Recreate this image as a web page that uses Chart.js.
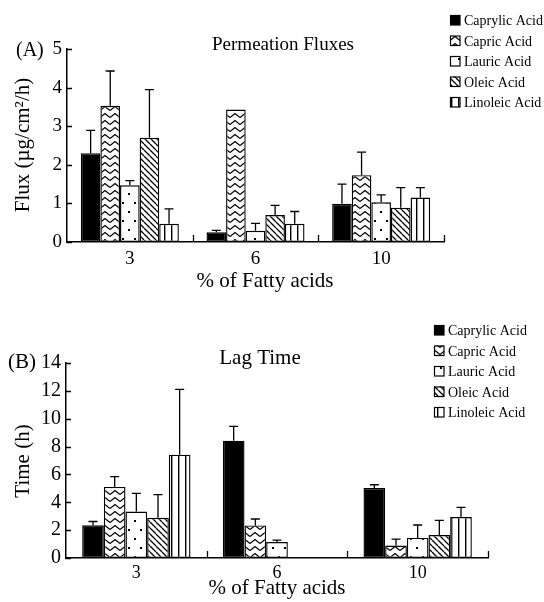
<!DOCTYPE html>
<html>
<head>
<meta charset="utf-8">
<script src="https://cdn.jsdelivr.net/npm/chart.js@4.4.0/dist/chart.umd.min.js"></script>
<style>
	body { margin: 0; background: #fff; }
	#wrap { position: relative; width: 544px; height: 602px; }
	canvas { position: absolute; left: 0; }
</style>
</head>
<body>
<div id="wrap">
	<canvas id="fluxChart" width="544" height="300" style="top:0"></canvas>
	<canvas id="lagChart" width="544" height="302" style="top:300px"></canvas>
</div>
<script>
const categories = ['3', '6', '10']
const acids = ['Caprylic Acid', 'Capric Acid', 'Lauric Acid', 'Oleic Acid', 'Linoleic Acid']

// (A) permeation flux (µg/cm²/h), mean and SD per % of fatty acid
const fluxCaprylic = [2.30, 0.25, 0.99]
const fluxCapric = [3.53, 3.43, 1.73]
const fluxLauric = [1.47, 0.29, 1.03]
const fluxOleic = [2.70, 0.70, 0.89]
const fluxLinoleic = [0.47, 0.47, 1.15]
const fluxCaprylicSd = [0.59, 0.05, 0.51]
const fluxCapricSd = [0.90, null, 0.60]
const fluxLauricSd = [0.12, 0.19, 0.19]
const fluxOleicSd = [1.25, 0.25, 0.52]
const fluxLinoleicSd = [0.39, 0.32, 0.26]
const fluxTicks = [0, 1, 2, 3, 4, 5]

// (B) lag time (h)
const lagCaprylic = [2.35, 8.42, 5.02]
const lagCapric = [5.10, 2.34, 0.89]
const lagLauric = [3.33, 1.15, 1.44]
const lagOleic = [2.89, null, 1.65]
const lagLinoleic = [7.42, null, 2.94]
const lagCaprylicSd = [0.27, 1.03, 0.24]
const lagCapricSd = [0.74, 0.46, 0.47]
const lagLauricSd = [1.31, 0.14, 0.93]
const lagOleicSd = [1.66, null, 1.05]
const lagLinoleicSd = [4.68, null, 0.70]
const lagTicks = [0, 2, 4, 6, 8, 10, 12, 14]

const serif = 'Liberation Serif'

// fill patterns for the bars
function makePattern(kind) {
	const c = document.createElement('canvas')
	const g = c.getContext('2d')
	if (kind === 'solid') return '#000'
	if (kind === 'zigzag') {
		c.width = 10; c.height = 7
		g.fillStyle = '#fff'; g.fillRect(0, 0, 10, 7)
		g.strokeStyle = '#000'; g.lineWidth = 1.3
		g.beginPath(); g.moveTo(0, 5.5); g.lineTo(5, 1.5); g.lineTo(10, 5.5); g.stroke()
	} else if (kind === 'dots') {
		c.width = 12; c.height = 18
		g.fillStyle = '#fff'; g.fillRect(0, 0, 12, 18)
		g.fillStyle = '#000'
		g.fillRect(2, 4, 2, 2)
		g.fillRect(8, 13, 2, 2)
	} else if (kind === 'hatch') {
		const s = 6
		c.width = s; c.height = s
		g.fillStyle = '#fff'; g.fillRect(0, 0, s, s)
		g.strokeStyle = '#000'; g.lineWidth = 1.3
		g.beginPath()
		for (const k of [-s, 0, s]) { g.moveTo(k, 0); g.lineTo(k + s, s) }
		g.stroke()
	} else if (kind === 'vlines') {
		c.width = 7; c.height = 2
		g.fillStyle = '#fff'; g.fillRect(0, 0, 7, 2)
		g.fillStyle = '#000'; g.fillRect(3, 0, 1.4, 2)
	}
	return g.createPattern(c, 'repeat')
}

const fills = ['solid', 'zigzag', 'dots', 'hatch', 'vlines'].map(makePattern)

function dataset(i, values, sd) {
	return {
		label: acids[i],
		data: values,
		errors: sd,
		backgroundColor: fills[i],
		borderColor: '#000',
		borderWidth: 1.4,
		borderSkipped: false,
	}
}

// error bars, inward ticks, titles and legend
const extras = {
	id: 'extras',
	afterDatasetsDraw(chart, args, o) {
		const { ctx, chartArea: area, scales: { x, y } } = chart
		ctx.save()
		ctx.strokeStyle = '#000'
		ctx.fillStyle = '#000'
		ctx.lineWidth = 1.3

		chart.data.datasets.forEach((ds, i) => {
			chart.getDatasetMeta(i).data.forEach((bar, j) => {
				const sd = ds.errors[j]
				if (sd == null || ds.data[j] == null) return
				const top = y.getPixelForValue(ds.data[j] + sd)
				ctx.beginPath()
				ctx.moveTo(bar.x, bar.y)
				ctx.lineTo(bar.x, top)
				ctx.moveTo(bar.x - 4.5, top)
				ctx.lineTo(bar.x + 4.5, top)
				ctx.stroke()
			})
		})

		// y ticks point into the plot
		ctx.beginPath()
		y.ticks.forEach(t => {
			const py = Math.round(y.getPixelForValue(t.value)) + 0.5
			ctx.moveTo(area.left, py)
			ctx.lineTo(area.left + 5, py)
		})
		// x ticks at category boundaries
		const n = categories.length
		const w = (area.right - area.left) / n
		for (let k = 1; k <= n; k++) {
			const px = Math.round(area.left + k * w) + 0.5
			ctx.moveTo(px, area.bottom)
			ctx.lineTo(px, area.bottom - 7)
		}
		ctx.stroke()

		ctx.textBaseline = 'alphabetic'
		ctx.font = o.tagFont + 'px ' + serif
		ctx.textAlign = 'left'
		ctx.fillText(o.tag, o.tagX, o.tagY)

		ctx.font = o.titleFont + 'px ' + serif
		ctx.textAlign = 'center'
		ctx.fillText(o.title, o.titleX, o.titleY)

		ctx.font = o.axisFont + 'px ' + serif
		ctx.fillText('% of Fatty acids', o.xTitleX, o.xTitleY)

		ctx.save()
		ctx.translate(o.yTitleX, o.yTitleY)
		ctx.rotate(-Math.PI / 2)
		ctx.fillText(o.yTitle, 0, 0)
		ctx.restore()

		// legend
		ctx.font = '14px ' + serif
		ctx.textAlign = 'left'
		chart.data.datasets.forEach((ds, i) => {
			const by = o.legendY + i * 20.5
			ctx.fillStyle = ds.backgroundColor
			ctx.fillRect(o.legendX, by - 10, 10, 10)
			ctx.lineWidth = 1.2
			ctx.strokeRect(o.legendX + 0.5, by - 9.5, 9.5, 9.5)
			ctx.fillStyle = '#000'
			ctx.fillText(ds.label, o.legendX + 14, by)
		})
		ctx.restore()
	},
}

function options(pad, yw, xh, ticks, yFont, xFont, xPad, extra) {
	return {
		responsive: false,
		animation: false,
		layout: { padding: pad },
		plugins: {
			legend: { display: false },
			tooltip: { enabled: false },
			extras: extra,
		},
		scales: {
			x: {
				grid: { display: false, drawTicks: false },
				border: { color: '#000', width: 1.5 },
				ticks: { color: '#000', padding: xPad, font: { family: serif, size: xFont } },
				afterFit: s => { s.height = xh },
			},
			y: {
				min: ticks[0],
				max: ticks[ticks.length - 1],
				grid: { display: false, drawTicks: false },
				border: { color: '#000', width: 1.5 },
				ticks: { color: '#000', padding: 5, stepSize: ticks[1] - ticks[0], font: { family: serif, size: yFont } },
				afterFit: s => { s.width = yw },
			},
		},
	}
}

new Chart(document.getElementById('fluxChart'), {
	type: 'bar',
	data: {
		labels: categories,
		datasets: [
			dataset(0, fluxCaprylic, fluxCaprylicSd),
			dataset(1, fluxCapric, fluxCapricSd),
			dataset(2, fluxLauric, fluxLauricSd),
			dataset(3, fluxOleic, fluxOleicSd),
			dataset(4, fluxLinoleic, fluxLinoleicSd),
		],
	},
	options: (() => {
		const opt = options({ top: 49, right: 100, left: 0, bottom: 0 }, 67, 58, fluxTicks, 19, 19, 6, {
			tag: '(A)', tagFont: 20, tagX: 16, tagY: 56,
			title: 'Permeation Fluxes', titleFont: 19, titleX: 283, titleY: 50,
			axisFont: 21, xTitleX: 265, xTitleY: 287,
			yTitle: 'Flux (µg/cm²/h)', yTitleX: 28.5, yTitleY: 145,
			legendX: 450, legendY: 25,
		})
		opt.datasets = { bar: { categoryPercentage: 0.78, barPercentage: 1 } }
		return opt
	})(),
	plugins: [extras],
})

new Chart(document.getElementById('lagChart'), {
	type: 'bar',
	data: {
		labels: categories,
		datasets: [
			dataset(0, lagCaprylic, lagCaprylicSd),
			dataset(1, lagCapric, lagCapricSd),
			dataset(2, lagLauric, lagLauricSd),
			dataset(3, lagOleic, lagOleicSd),
			dataset(4, lagLinoleic, lagLinoleicSd),
		],
	},
	options: (() => {
		const opt = options({ top: 63, right: 56, left: 0, bottom: 0 }, 66, 44, lagTicks, 20, 18, 4, {
			tag: '(B)', tagFont: 21, tagX: 8, tagY: 68,
			title: 'Lag Time', titleFont: 21, titleX: 260, titleY: 64,
			axisFont: 21, xTitleX: 277, xTitleY: 294,
			yTitle: 'Time (h)', yTitleX: 29, yTitleY: 161,
			legendX: 434, legendY: 35,
		})
		opt.datasets = { bar: { categoryPercentage: 0.77, barPercentage: 1 } }
		return opt
	})(),
	plugins: [extras],
})
</script>
</body>
</html>
